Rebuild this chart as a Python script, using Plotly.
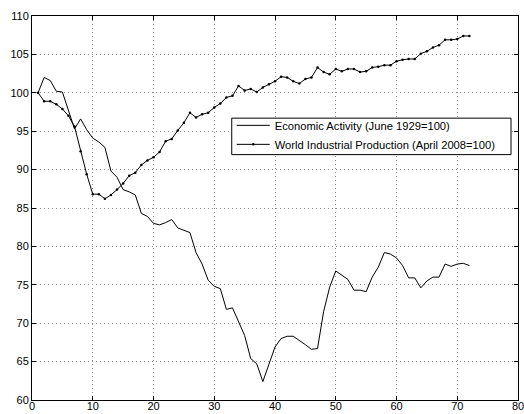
import plotly.graph_objects as go

months = list(range(1, 73))

economic_activity_1929 = [
    100.0, 102.0, 101.6, 100.2, 100.1, 97.8, 95.3, 96.6, 95.2, 94.1,
    93.6, 92.9, 89.8, 89.0, 87.4, 87.1, 86.7, 84.3, 83.9, 83.0,
    82.8, 83.1, 83.5, 82.4, 82.1, 81.8, 79.2, 77.7, 75.6, 74.8,
    74.5, 71.8, 72.0, 70.2, 68.4, 65.4, 64.7, 62.4, 64.6, 66.9,
    68.0, 68.3, 68.3, 67.8, 67.2, 66.6, 66.7, 71.5, 74.7, 76.8,
    76.3, 75.7, 74.3, 74.3, 74.1, 76.0, 77.3, 79.2, 79.0, 78.5,
    77.5, 75.9, 75.9, 74.6, 75.5, 76.0, 76.0, 77.7, 77.4, 77.7,
    77.8, 77.5,
]

world_industrial_2008 = [
    100.0, 98.9, 98.9, 98.5, 97.9, 97.0, 95.6, 92.4, 89.4, 86.8,
    86.8, 86.2, 86.7, 87.4, 88.2, 89.2, 89.6, 90.6, 91.2, 91.6,
    92.3, 93.7, 94.0, 95.1, 96.1, 97.4, 96.8, 97.2, 97.4, 98.1,
    98.6, 99.4, 99.6, 100.9, 100.3, 100.5, 100.1, 100.7, 101.1, 101.5,
    102.1, 102.0, 101.5, 101.2, 101.8, 102.0, 103.3, 102.7, 102.4, 103.1,
    102.8, 103.1, 103.1, 102.7, 102.8, 103.3, 103.4, 103.6, 103.6, 104.1,
    104.3, 104.4, 104.4, 105.1, 105.4, 105.9, 106.2, 106.9, 106.9, 107.0,
    107.4, 107.4,
]

x_ticks = [0, 10, 20, 30, 40, 50, 60, 70, 80]
y_ticks = [60, 65, 70, 75, 80, 85, 90, 95, 100, 105, 110]

FONT = "Liberation Sans, Arial, Helvetica, sans-serif"

fig = go.Figure()
fig.add_trace(go.Scatter(
    x=months, y=economic_activity_1929, mode="lines",
    name="Economic Activity (June 1929=100)",
    line=dict(color="black", width=1),
))
fig.add_trace(go.Scatter(
    x=months, y=world_industrial_2008, mode="lines+markers",
    name="World Industrial Production (April 2008=100)",
    line=dict(color="black", width=1),
    marker=dict(color="black", size=2.5),
))

axis_common = dict(
    showline=True, linecolor="black", linewidth=1, mirror="allticks",
    ticks="inside", ticklen=4, tickcolor="black",
    showgrid=True, gridcolor="#8c8c8c", griddash="1px,3px", gridwidth=1,
    zeroline=False, automargin=False, ticklabeloverflow="allow",
    tickfont=dict(family=FONT, size=11, color="black"),
)

fig.update_xaxes(range=[0, 80], tickvals=x_ticks, ticklabelstandoff=-4, **axis_common)
fig.update_yaxes(range=[60, 110], tickvals=y_ticks, **axis_common)

# legend frame (box drawn as a shape so its size matches the reference)
fig.add_shape(
    type="rect", xref="paper", yref="paper",
    x0=0.411, x1=0.9856, y0=0.639, y1=0.734,
    line=dict(color="black", width=1), fillcolor="white", layer="above",
)

fig.update_layout(
    width=524, height=414,
    margin=dict(l=32, r=6, t=16, b=14, autoexpand=False),
    plot_bgcolor="white", paper_bgcolor="white",
    font=dict(family=FONT, size=11, color="black"),
    legend=dict(
        x=0.411, y=0.753, xanchor="left", yanchor="top",
        bgcolor="rgba(0,0,0,0)", borderwidth=0,
        font=dict(size=11.2), itemwidth=33, tracegroupgap=0,
    ),
    showlegend=True,
)

fig.write_html("out.html", config={"displayModeBar": False},
               post_script="document.body.style.margin='0';")
